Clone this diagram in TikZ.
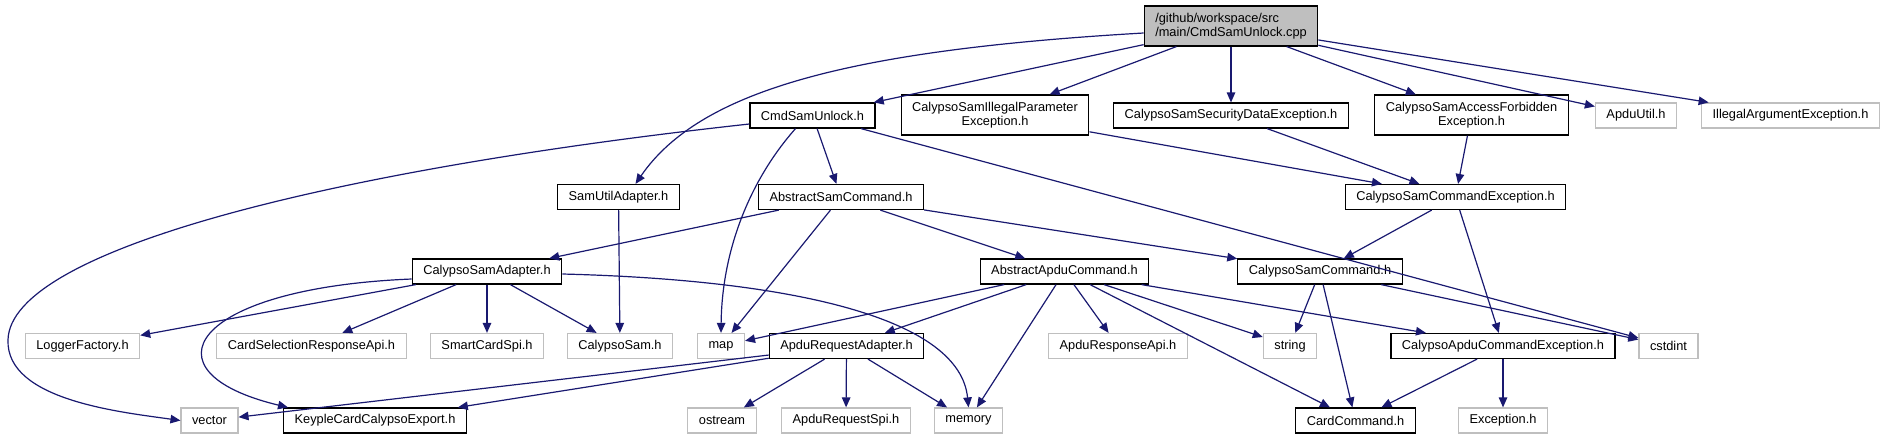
\documentclass[tikz,border=0pt]{standalone}
\usepackage{fontspec}
\setmainfont{Liberation Sans}
\usetikzlibrary{arrows.meta}

\definecolor{edgeblue}{RGB}{25,25,112}
\definecolor{extgray}{RGB}{191,191,191}

\begin{document}
\begin{tikzpicture}[
    x=1pt, y=-1pt,
    % ====================
    % ESTILOS DE NODOS
    % ====================
    file/.style={
        rectangle, draw=black, line width=1.2pt, fill=white,
        align=center, font=\fontsize{12.8}{14.5}\selectfont,
        minimum height=25pt, inner xsep=11pt, inner ysep=2pt
    },
    twoline/.style={
        file, minimum height=40pt
    },
    ext/.style={
        file, draw=extgray
    },
    main/.style={
        twoline, fill=extgray, align=left
    },
    line/.style={
        line width=1.2pt, draw=edgeblue, -{Triangle[length=10pt, width=8.5pt]}
    }
]

\useasboundingbox (0,0) rectangle (1885,440);

% ====================
% DEFINICIÓN DE NODOS
% ====================

% Archivo raíz
\node[main] (A1) at (1231,26) {/github/workspace/src\\/main/CmdSamUnlock.cpp};

% Fila 1 (y = 115)
\node[file] (B1) at (812.5,115.5) {CmdSamUnlock.h};
\node[twoline] (B2) at (995,115) {CalypsoSamIllegalParameter\\Exception.h};
\node[file] (B3) at (1231,115.5) {CalypsoSamSecurityDataException.h};
\node[twoline] (B4) at (1471.5,115) {CalypsoSamAccessForbidden\\Exception.h};
\node[ext] (B5) at (1636,115.5) {ApduUtil.h};
\node[ext] (B6) at (1790.5,115.5) {IllegalArgumentException.h};

% Fila 2 (y = 197)
\node[file] (C1) at (618.5,197) {SamUtilAdapter.h};
\node[file] (C2) at (841,197) {AbstractSamCommand.h};
\node[file] (C3) at (1455.5,197) {CalypsoSamCommandException.h};

% Fila 3 (y = 271)
\node[file] (D1) at (487,271.5) {CalypsoSamAdapter.h};
\node[file] (D2) at (1064.5,271.5) {AbstractApduCommand.h};
\node[file] (D3) at (1320,271.5) {CalypsoSamCommand.h};

% Fila 4 (y = 346)
\node[ext] (E1) at (82.5,346) {LoggerFactory.h};
\node[ext] (E2) at (311.5,346) {CardSelectionResponseApi.h};
\node[ext] (E3) at (487,346) {SmartCardSpi.h};
\node[ext] (E4) at (620,346) {CalypsoSam.h};
\node[ext] (E5) at (721,346) {map};
\node[file] (E6) at (846.5,346) {ApduRequestAdapter.h};
\node[ext] (E7) at (1118,346) {ApduResponseApi.h};
\node[ext] (E8) at (1290,346) {string};
\node[file] (E9) at (1503,346) {CalypsoApduCommandException.h};
\node[ext] (E10) at (1668.5,346) {cstdint};

% Fila 5 (y = 420)
\node[ext] (F1) at (209.5,420.5) {vector};
\node[file] (F2) at (375,420.5) {KeypleCardCalypsoExport.h};
\node[ext] (F3) at (722,420.5) {ostream};
\node[ext] (F4) at (846,420.5) {ApduRequestSpi.h};
\node[ext] (F5) at (968.5,420.5) {memory};
\node[file] (F6) at (1355.5,420.5) {CardCommand.h};
\node[ext] (F7) at (1503,420.5) {Exception.h};

% ====================
% DEPENDENCIAS
% ====================

% Desde el archivo raíz
\draw[line] (A1) -- (B1);
\draw[line] (A1) -- (B2);
\draw[line] (A1) -- (B3);
\draw[line] (A1) -- (B4);
\draw[line] (A1) -- (B5);
\draw[line] (A1) -- (B6);
\draw[line] ([yshift=-7pt]A1.west) .. controls (850,50) and (700,90) .. ([xshift=17pt]C1.north);

% CmdSamUnlock.h
\draw[line] ([yshift=-8.5pt]B1.west) .. controls (330,170) and (10,250) .. (8,340)
    .. controls (6,400) and (120,412) .. (F1.west);
\draw[line] ([xshift=-17pt]B1.south) .. controls (750,180) and (722,250) .. (E5.north);
\draw[line] (B1) -- (C2);
\draw[line] (B1) -- (E10);

% Excepciones hacia CalypsoSamCommandException.h
\draw[line] (B2) -- (C3);
\draw[line] (B3) -- (C3);
\draw[line] (B4) -- (C3);

% Fila 2
\draw[line] (C1) -- (E4);
\draw[line] (C2) -- (D1);
\draw[line] (C2) -- (E5);
\draw[line] (C2) -- (D2);
\draw[line] (C2) -- (D3);
\draw[line] (C3) -- (D3);
\draw[line] (C3) -- (E9);

% CalypsoSamAdapter.h
\draw[line] (D1) -- (E1);
\draw[line] (D1) -- (E2);
\draw[line] (D1) -- (E3);
\draw[line] (D1) -- (E4);
\draw[line] ([yshift=-7.5pt]D1.west) .. controls (190,288) and (140,372) .. ([xshift=5pt]F2.north west);
\draw[line] ([yshift=-2.5pt]D1.east) .. controls (800,280) and (960,320) .. (F5.north);

% AbstractApduCommand.h
\draw[line] (D2) -- (E5);
\draw[line] (D2) -- (E6);
\draw[line] (D2) -- (F5);
\draw[line] (D2) -- (E7);
\draw[line] (D2) -- (E8);
\draw[line] (D2) -- (E9);
\draw[line] (D2) -- (F6);

% CalypsoSamCommand.h
\draw[line] (D3) -- (E8);
\draw[line] (D3) -- (F6);
\draw[line] (D3) -- (E10);

% ApduRequestAdapter.h
\draw[line] (E6) -- (F1);
\draw[line] (E6) -- (F2);
\draw[line] (E6) -- (F3);
\draw[line] (E6) -- (F4);
\draw[line] (E6) -- (F5);

% CalypsoApduCommandException.h
\draw[line] (E9) -- (F6);
\draw[line] (E9) -- (F7);

\end{tikzpicture}
\end{document}
